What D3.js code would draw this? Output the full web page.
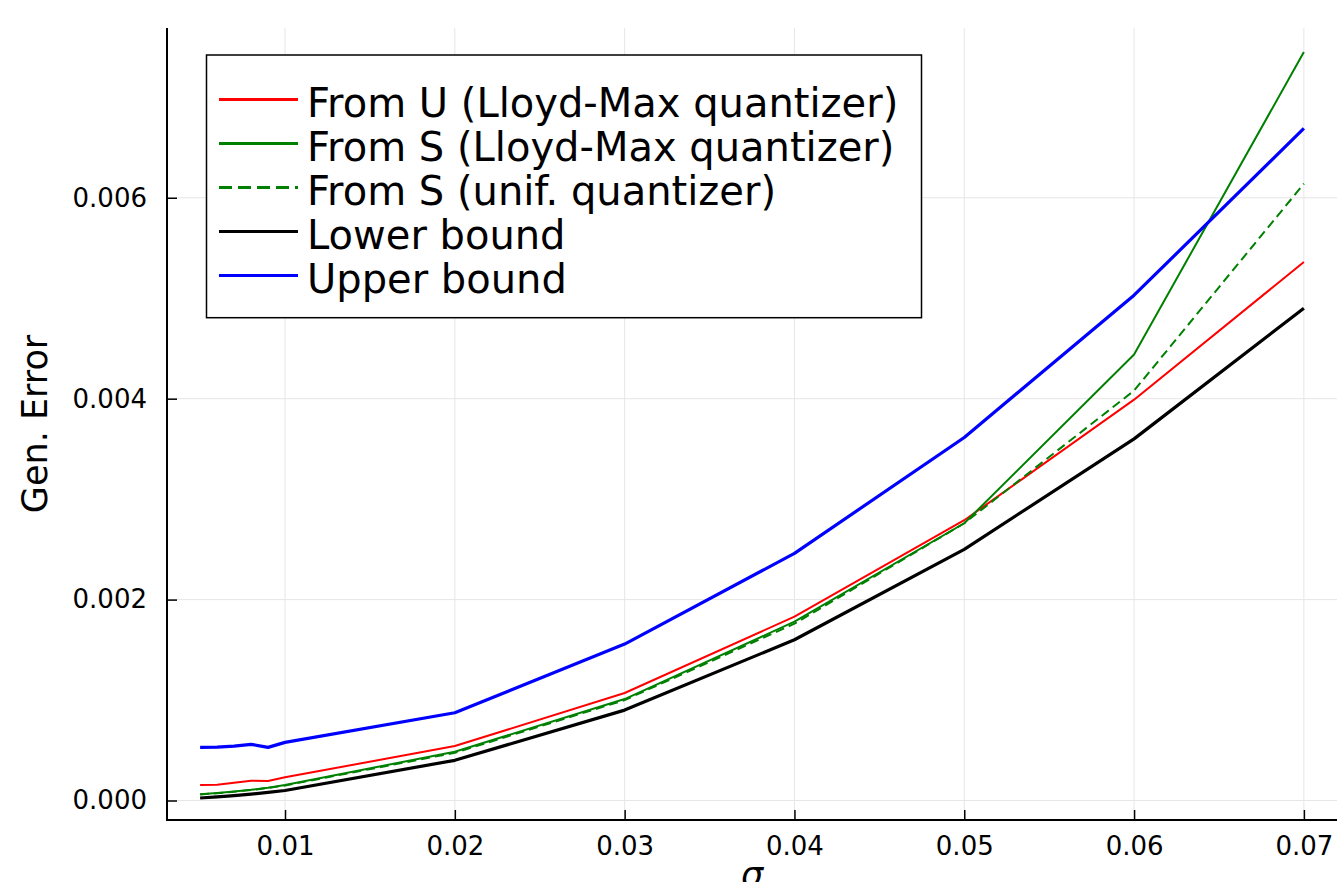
<!DOCTYPE html>
<html>
<head>
<meta charset="utf-8">
<script src="https://cdn.jsdelivr.net/npm/d3@7"></script>
<style>
  html, body { margin: 0; padding: 0; background: #fff; }
  svg { display: block; font-family: "DejaVu Sans", sans-serif; }
</style>
</head>
<body>
<svg id="chart" width="1343" height="882"></svg>
<script>
// ---- data ----
const sigma = [0.005, 0.006, 0.007, 0.008, 0.009, 0.01, 0.02, 0.03, 0.04, 0.05, 0.06, 0.07];
const fromU_LM = [0.000154, 0.000157, 0.000177, 0.000197, 0.000194, 0.000231, 0.000542, 0.00107, 0.00183, 0.00279, 0.00399, 0.00536];
const fromS_LM = [0.000062, 0.000075, 0.00009, 0.000107, 0.000128, 0.000154, 0.000486, 0.00101, 0.00178, 0.00276, 0.00444, 0.00745];
const fromS_unif = [0.00006, 0.000073, 0.000088, 0.000105, 0.000125, 0.00015, 0.000475, 0.001, 0.00176, 0.00276, 0.00408, 0.00614];
const lowerBound = [0.000025, 0.000036, 0.000049, 0.000064, 0.000081, 0.0001, 0.0004, 0.0009, 0.0016, 0.0025, 0.0036, 0.0049];
const upperBound = [0.000529, 0.000532, 0.000542, 0.000559, 0.000529, 0.000579, 0.000874, 0.001557, 0.00246, 0.003614, 0.00503, 0.00669];

const xTicks = [0.01, 0.02, 0.03, 0.04, 0.05, 0.06, 0.07];
const yTicks = [0.000, 0.002, 0.004, 0.006];
const xTickLabels = ["0.01", "0.02", "0.03", "0.04", "0.05", "0.06", "0.07"];
const yTickLabels = ["0.000", "0.002", "0.004", "0.006"];

const seriesNames = ["From U (Lloyd-Max quantizer)", "From S (Lloyd-Max quantizer)", "From S (unif. quantizer)", "Lower bound", "Upper bound"];
const seriesValues = [fromU_LM, fromS_LM, fromS_unif, lowerBound, upperBound];
const seriesColors = ["#ff0000", "#008000", "#008000", "#000000", "#0000ff"];
const seriesWidths = [2, 2, 2, 3.2, 3.2];
const seriesDash = [null, null, "9,5", null, null];

// ---- layout ----
const svg = d3.select("#chart");
const L = 167, R = 1337, T = 28, B = 820;

const x = d3.scaleLinear().domain([0.00305, 0.07195]).range([L, R]);
const y = d3.scaleLinear().domain([-0.000194, 0.00769]).range([B, T]);

// grid
const grid = svg.append("g");
grid.selectAll("line.vx").data(xTicks).enter().append("line")
  .attr("x1", d => x(d)).attr("x2", d => x(d)).attr("y1", T).attr("y2", B)
  .attr("stroke", "#e6e6e6").attr("stroke-width", 1);
grid.selectAll("line.hy").data(yTicks).enter().append("line")
  .attr("x1", L).attr("x2", R).attr("y1", d => y(d)).attr("y2", d => y(d))
  .attr("stroke", "#e6e6e6").attr("stroke-width", 1);

// axes
const xAxis = d3.axisBottom(x).tickValues(xTicks).tickFormat((d, i) => xTickLabels[i])
  .tickSizeInner(-10).tickSizeOuter(0).tickPadding(17);
const yAxis = d3.axisLeft(y).tickValues(yTicks).tickFormat((d, i) => yTickLabels[i])
  .tickSizeInner(-10).tickSizeOuter(0).tickPadding(20);

const gx = svg.append("g").attr("transform", `translate(0,${B})`).call(xAxis);
const gy = svg.append("g").attr("transform", `translate(${L},0)`).call(yAxis);
[gx, gy].forEach(g => {
  g.select(".domain").remove();
  g.selectAll(".tick line").attr("stroke", "#000").attr("stroke-width", 1.5);
  g.selectAll(".tick text").attr("fill", "#000").style("font-family", "DejaVu Sans")
    .style("font-size", "26px");
});

// spines
svg.append("line").attr("x1", L).attr("x2", L).attr("y1", T).attr("y2", B + 1)
  .attr("stroke", "#000").attr("stroke-width", 2);
svg.append("line").attr("x1", L - 1).attr("x2", R).attr("y1", B).attr("y2", B)
  .attr("stroke", "#000").attr("stroke-width", 2);

// lines
const line = d3.line().x((d, i) => x(sigma[i])).y(d => y(d));
seriesValues.forEach((vals, k) => {
  const p = svg.append("path").datum(vals)
    .attr("d", line)
    .attr("fill", "none")
    .attr("stroke", seriesColors[k])
    .attr("stroke-width", seriesWidths[k])
    .attr("stroke-linejoin", "round");
  if (seriesDash[k]) p.attr("stroke-dasharray", seriesDash[k]);
});

// axis labels
svg.append("text").attr("x", (L + R) / 2).attr("y", 887)
  .attr("text-anchor", "middle").style("font-size", "35px").style("font-style", "italic")
  .text("σ");
svg.append("text").attr("transform", `translate(47,424) rotate(-90)`)
  .attr("text-anchor", "middle").style("font-size", "35px")
  .text("Gen. Error");

// legend
const lg = svg.append("g");
lg.append("rect").attr("x", 206.5).attr("y", 55).attr("width", 715).attr("height", 262.7)
  .attr("fill", "#fff").attr("stroke", "#000").attr("stroke-width", 1.5);
const rowY0 = 99.5, rowStep = 44;
seriesNames.forEach((name, k) => {
  const yy = rowY0 + k * rowStep;
  const l = lg.append("line").attr("x1", 219).attr("x2", 298).attr("y1", yy).attr("y2", yy)
    .attr("stroke", seriesColors[k]).attr("stroke-width", 3);
  if (seriesDash[k]) l.attr("stroke-dasharray", "13,6");
  lg.append("text").attr("x", 307).attr("y", yy + 17).style("font-size", "40px")
    .attr("fill", "#000").text(name);
});
</script>
</body>
</html>
